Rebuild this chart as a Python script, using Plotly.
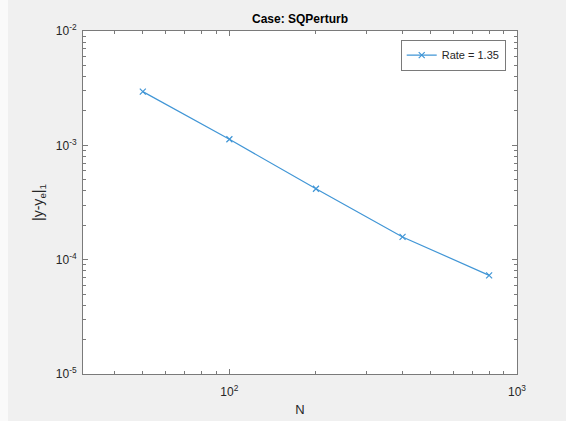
import plotly.graph_objects as go

# Convergence data: grid size N and L1 error
n_values = [50, 100, 200, 400, 800]
errors = [2.95e-3, 1.13e-3, 4.17e-4, 1.58e-4, 7.29e-5]
rate_label = "Rate = 1.35"
title_text = "Case: SQPerturb"

x_tickvals = [1e2, 1e3]
x_ticktext = ["10<sup>2</sup>", "10<sup>3</sup>"]
y_tickvals = [1e-5, 1e-4, 1e-3, 1e-2]
y_ticktext = ["10<sup>-5</sup>", "10<sup>-4</sup>", "10<sup>-3</sup>", "10<sup>-2</sup>"]

x_minor = [m * 10 ** e for e in (1, 2) for m in range(2, 10)]
y_minor = [m * 10.0 ** e for e in (-5, -4, -3) for m in range(2, 10)]

W, H = 566, 421
L, R, T, B = 83, 49, 31, 47

line_color = "#4196d6"
axis_color = "#7a7a7a"
text_color = "#262626"
font_family = "Liberation Sans, Arial, Helvetica, sans-serif"

fig = go.Figure()
fig.add_trace(go.Scatter(
    x=n_values, y=errors, mode="lines+markers", name=rate_label,
    line=dict(color=line_color, width=1.2),
    marker=dict(symbol="x-thin-open", size=6, line=dict(color=line_color, width=1.2)),
))

axis_common = dict(
    type="log", showgrid=False, zeroline=False, automargin=False,
    showline=True, linecolor=axis_color, linewidth=1, mirror="allticks",
    ticks="inside", ticklen=5, tickcolor=axis_color, tickwidth=1,
    tickfont=dict(family=font_family, size=12, color=text_color),
)

fig.update_xaxes(
    **axis_common, range=[1.491, 3],
    tickmode="array", tickvals=x_tickvals, ticktext=x_ticktext,
    ticklabelstandoff=7,
    minor=dict(tickmode="array", tickvals=x_minor, ticks="inside", ticklen=3,
               tickcolor=axis_color, showgrid=False),
    title=dict(text="N", font=dict(family=font_family, size=13, color=text_color), standoff=6),
)
fig.update_yaxes(
    **axis_common, range=[-5, -2],
    tickmode="array", tickvals=y_tickvals, ticktext=y_ticktext,
    ticklabelstandoff=3,
    minor=dict(tickmode="array", tickvals=y_minor, ticks="inside", ticklen=3,
               tickcolor=axis_color, showgrid=False),
    title=dict(text="|y-y<sub>e</sub>|<sub>1</sub>",
               font=dict(family=font_family, size=14, color=text_color), standoff=8),
)

fig.update_layout(
    width=W, height=H,
    margin=dict(l=L, r=R, t=T, b=B, pad=0, autoexpand=False),
    paper_bgcolor="#f0f0f0", plot_bgcolor="#ffffff",
    title=dict(text="<b>" + title_text + "</b>", x=0.5, xanchor="center",
               xref="paper", y=1 - 19 / H, yanchor="middle",
               font=dict(family=font_family, size=12, color="#000000")),
    showlegend=True,
    legend=dict(x=0.974, y=0.975, xanchor="right", yanchor="top",
                bgcolor="#ffffff", bordercolor=axis_color, borderwidth=1,
                font=dict(family=font_family, size=11, color=text_color),
                itemwidth=30, tracegroupgap=0),
    shapes=[dict(type="rect", xref="paper", yref="paper",
                 x0=-L / (W - L - R), x1=(8 - L) / (W - L - R), y0=-B / (H - T - B) - 0.1, y1=1 + T / (H - T - B) + 0.1,
                 fillcolor="#fafafa", line=dict(width=0), layer="below")],
)

fig.write_html("out.html")
